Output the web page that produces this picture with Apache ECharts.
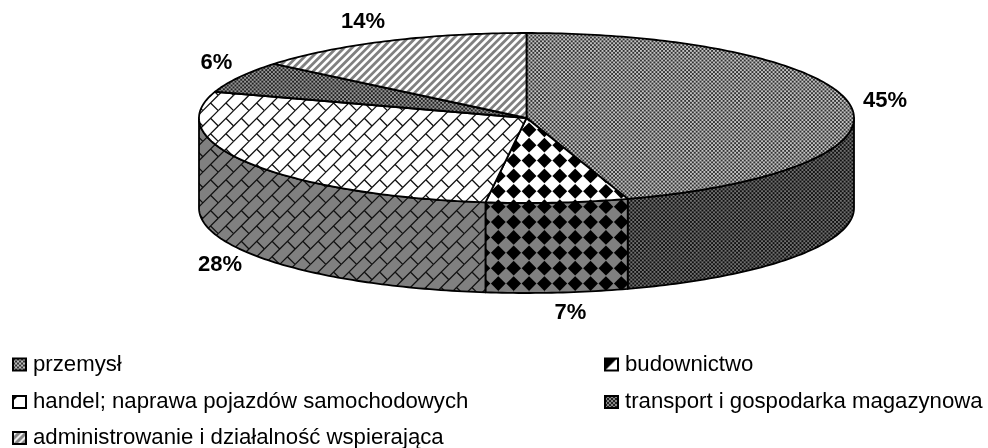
<!DOCTYPE html>
<html><head><meta charset="utf-8">
<style>html,body{margin:0;padding:0;background:#fff;overflow:hidden}#c{width:988px;height:448px}</style>
<script src="https://cdn.jsdelivr.net/npm/echarts@6/dist/echarts.min.js"></script>
</head><body><div id="c"></div>
<script>
const categories = ['przemysł','budownictwo','handel; naprawa pojazdów samochodowych','transport i gospodarka magazynowa','administrowanie i działalność wspierająca'];
const shareValues = [45,7,28,6,14];
const labelOffsets = [[35,-4],[13,20],[-30,11],[-23,-14],[-24,-19]];

const CX=526.5, CY=118, RX=327.5, RY=85, DEPTH=90;
const T=15.375, SIZE=123;

function tile(bg, draw, blur){
  const c=document.createElement('canvas'); c.width=SIZE; c.height=SIZE;
  const g=c.getContext('2d'); g.fillStyle=bg; g.fillRect(0,0,SIZE,SIZE);
  if(blur) g.filter='blur('+blur+'px)';
  draw(g);
  return {image:c,repeat:'repeat'};
}
function checker(dark,light){
  return tile(light,g=>{
    g.fillStyle=dark; const s=T/8;
    for(let i=0;i<64;i++)for(let j=0;j<64;j++) if((i+j)%2===0) g.fillRect(i*s,j*s,s,s);
  },0.35);
}
function diamonds(bg){
  return tile(bg,g=>{
    g.fillStyle='#000'; const r=7.4, px=6.3, py=6.8;
    for(let i=-1;i<=8;i++)for(let j=-1;j<=8;j++){
      const x=px+i*T,y=py+j*T;
      g.beginPath();g.moveTo(x-r,y);g.lineTo(x,y-r);g.lineTo(x+r,y);g.lineTo(x,y+r);g.closePath();g.fill();
    }
  },0.6);
}
function bricks(bg){
  return tile(bg,g=>{
    g.strokeStyle='#111'; g.lineWidth=1.3; const px=3, py=3;
    for(let i=-2;i<=10;i++)for(let j=-2;j<=10;j++){
      const x=px+i*T,y=py+j*T;
      g.beginPath();g.moveTo(x+T,y);g.lineTo(x,y+T);
      g.moveTo(x+T/2,y+T/2);g.lineTo(x+T,y+T);g.stroke();
    }
  },0.6);
}
function stripes(){
  return tile('#fff',g=>{
    g.strokeStyle='#808080'; g.lineWidth=2.8; const p=T/2;
    for(let i=-18;i<=18;i++){
      g.beginPath();g.moveTo(i*p-10,SIZE+10);g.lineTo(i*p+SIZE+10,-10);g.stroke();
    }
  },0.5);
}
function iconFrom(draw){
  const c=document.createElement('canvas'); c.width=14; c.height=14;
  draw(c.getContext('2d'));
  return {image:c,repeat:'repeat'};
}
const topFills=[checker('#333','#c4c4c4'),diamonds('#fff'),bricks('#fff'),checker('#222','#999'),stripes()];
const sideFills=[checker('#111','#707070'),diamonds('#808080'),bricks('#808080'),null,null];
const iconFills=[
  iconFrom(g=>{g.fillStyle='#bbb';g.fillRect(0,0,14,14);g.fillStyle='#333';for(let i=0;i<7;i++)for(let j=0;j<7;j++)if((i+j)%2===0)g.fillRect(i*2,j*2,2,2);}),
  iconFrom(g=>{g.fillStyle='#fff';g.fillRect(0,0,14,14);g.fillStyle='#000';g.beginPath();g.moveTo(0,0);g.lineTo(12,0);g.lineTo(0,12);g.fill();}),
  iconFrom(g=>{g.fillStyle='#fff';g.fillRect(0,0,14,14);g.fillStyle='#000';g.beginPath();g.moveTo(0,0);g.lineTo(5,0);g.lineTo(0,5);g.fill();}),
  iconFrom(g=>{g.fillStyle='#888';g.fillRect(0,0,14,14);g.fillStyle='#222';for(let i=0;i<7;i++)for(let j=0;j<7;j++)if((i+j)%2===0)g.fillRect(i*2,j*2,2,2);}),
  iconFrom(g=>{g.fillStyle='#eee';g.fillRect(0,0,14,14);g.strokeStyle='#888';g.lineWidth=3;for(let k=-14;k<28;k+=7){g.beginPath();g.moveTo(k,14);g.lineTo(k+14,0);g.stroke();}})
];

const total=shareValues.reduce((a,b)=>a+b,0);
function pt(a,dy){const r=a*Math.PI/180;return [CX+RX*Math.sin(r),CY-RY*Math.cos(r)+(dy||0)];}
function arc(a0,a1,dy){const n=Math.max(2,Math.ceil(Math.abs(a1-a0)));const out=[];for(let i=0;i<=n;i++)out.push(pt(a0+(a1-a0)*i/n,dy));return out;}

let cum=0;
const series=shareValues.map((v,i)=>{
  const a0=cum/total*360; cum+=v; const a1=cum/total*360;
  return {
    type:'custom',name:categories[i],coordinateSystem:'none',silent:true,animation:false,
    itemStyle:{color:iconFills[i],borderColor:'#000',borderWidth:1.5},
    data:[[v]],
    renderItem(){
      const ch=[];
      const s0=Math.max(a0,90), s1=Math.min(a1,270);
      if(s1>s0){
        const pts=arc(s0,s1,0).concat(arc(s1,s0,DEPTH));
        ch.push({type:'polygon',shape:{points:pts},style:{fill:sideFills[i],stroke:'#000',lineWidth:1.8,lineJoin:'round'}});
      }
      ch.push({type:'polygon',shape:{points:[[CX,CY]].concat(arc(a0,a1,0))},style:{fill:topFills[i],stroke:'#000',lineWidth:1.8,lineJoin:'round'}});
      const mid=(a0+a1)/2, m=pt(mid,(mid>90&&mid<270)?DEPTH:0);
      ch.push({type:'text',style:{text:v+'%',x:m[0]+labelOffsets[i][0],y:m[1]+labelOffsets[i][1],align:'center',verticalAlign:'middle',font:'bold 22px "Liberation Sans", Arial, sans-serif',fill:'#000'}});
      return {type:'group',children:ch};
    }
  };
});
const legendBase={orient:'vertical',padding:0,itemWidth:13,itemHeight:12,itemGap:15.5,selectedMode:false,icon:'rect',
  textStyle:{fontFamily:'"Liberation Sans", Arial, sans-serif',fontSize:22.2,color:'#000',padding:[0,0,0,2]}};
const chart=echarts.init(document.getElementById('c'),null,{renderer:'canvas'});
chart.setOption({
  backgroundColor:'#fff',animation:false,
  legend:[
    Object.assign({},legendBase,{left:12,top:353.5,data:[categories[0],categories[2]]}),
    Object.assign({},legendBase,{left:12,top:427,data:[categories[4]]}),
    Object.assign({},legendBase,{left:604,top:353.5,data:[categories[1],categories[3]]})
  ],
  series
});
</script></body></html>
